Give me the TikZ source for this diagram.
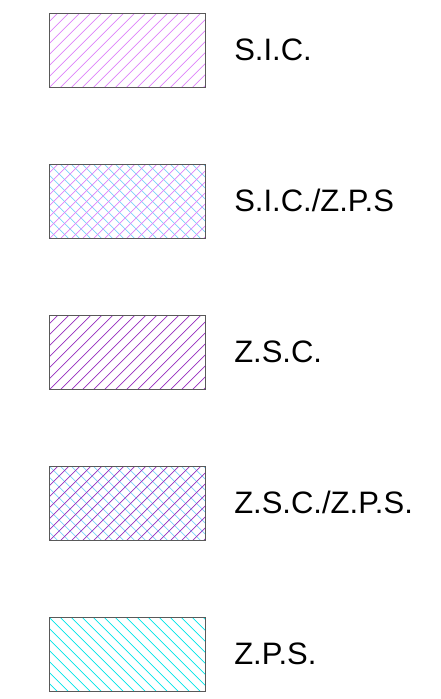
\documentclass[tikz,border=0pt]{standalone}
\usepackage{fontspec}
\setmainfont{Liberation Sans}
\usepackage{tikz}
\usetikzlibrary{positioning}
\usetikzlibrary{calc}
\definecolor{sicpink}{RGB}{222,130,250}
\definecolor{zscpurple}{RGB}{150,45,190}
\definecolor{zpscyan}{RGB}{0,228,232}
\definecolor{zpsblue}{RGB}{125,210,250}
\tikzstyle{legendbox}=[draw=black!65,line width=0.9pt,minimum width=156pt,minimum height=74pt,inner sep=0pt]
\tikzstyle{legendlabel}=[font=\fontsize{31}{37}\selectfont,anchor=base west,inner sep=0pt]
\tikzset{
  hatchup/.style={path picture={
      \foreach \k in {-8,...,15}
        \draw[#1,line width=0.8pt] ([xshift=\k*11pt]path picture bounding box.south west) -- ++(90pt,90pt);}},
  hatchdown/.style={path picture={
      \foreach \k in {-8,...,15}
        \draw[#1,line width=0.8pt] ([xshift=\k*11pt]path picture bounding box.north west) -- ++(90pt,-90pt);}},
  hatchcross/.style 2 args={path picture={
      \foreach \k in {-8,...,15}
        \draw[#2,line width=0.8pt] ([xshift=\k*11pt]path picture bounding box.north west) -- ++(90pt,-90pt);
      \foreach \k in {-8,...,15}
        \draw[#1,line width=0.8pt] ([xshift=\k*11pt]path picture bounding box.south west) -- ++(90pt,90pt);}}
}
\begin{document}
\begin{tikzpicture}[x=1pt,y=-1pt]
    \useasboundingbox (0,0) rectangle (440,699);

    % legend boxes
    \node[legendbox,hatchup=sicpink] (sic) at (127.6,50.3) {};
    \node[legendbox,hatchcross={sicpink}{zpsblue}] (siczps) at (127.6,201.5) {};
    \node[legendbox,hatchup=zscpurple] (zsc) at (127.6,352.5) {};
    \node[legendbox,hatchcross={zscpurple}{zpsblue}] (zsczps) at (127.6,503.5) {};
    \node[legendbox,hatchdown=zpscyan] (zps) at (127.6,654.7) {};

    % labels
    \foreach \name/\label in {sic/{S.I.C.}, siczps/{S.I.C./Z.P.S}, zsc/{Z.S.C.}, zsczps/{Z.S.C./Z.P.S.}, zps/{Z.P.S.}}
        \node[legendlabel] (\name-label) at ([xshift=28pt,yshift=-10pt]\name.east) {\label};

\end{tikzpicture}
\end{document}
